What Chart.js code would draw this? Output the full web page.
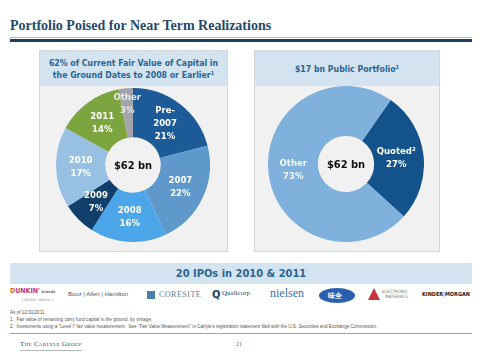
<!DOCTYPE html>
<html lang="en">

<head>
    <meta charset="UTF-8">
    <script src="https://cdn.jsdelivr.net/npm/chart.js"></script>
    <title>Portfolio Poised for Near Term Realizations</title>
    <style>
        body { margin: 0; width: 480px; height: 359px; background: #fff; position: relative; overflow: hidden;
               font-family: "DejaVu Sans Condensed", "DejaVu Sans", sans-serif; }
        .abs { position: absolute; }
        #title { left: 10px; top: 18px; font-family: "Liberation Serif", serif; font-weight: bold;
                 font-size: 14px; color: #1f4a6b; white-space: nowrap; }
        #rule1 { left: 10px; top: 37px; width: 462px; height: 1px; background: #9fbcd6; }
        #rule2 { left: 10px; top: 39px; width: 462px; height: 3px; background: #1d3f66; }
        .panel { top: 50px; height: 202px; background: #f1f1f1; border: 1px solid #d6d6d6; box-sizing: border-box; }
        .panelHead { left: 0; top: 0; right: 0; height: 35px; background: #d3e3f0; color: #2b6593;
                     font-weight: bold; font-size: 8.7px; text-align: center; display: flex;
                     align-items: center; justify-content: center; }
        .panelHead span { display: block; line-height: 12px; white-space: nowrap; }
        sup { font-size: 5.5px; vertical-align: 3px; line-height: 0; }
        #left { left: 39px; width: 189px; }
        #right { left: 254px; width: 186px; }
        canvas { position: absolute; }
        #band { left: 10px; top: 263px; width: 462px; height: 21px; background: #d3e3f0; color: #2b6593;
                font-weight: bold; font-size: 11px; text-align: center; line-height: 21px; }
        .logo { top: 288px; font-size: 6px; color: #555; white-space: nowrap; }
        .note { left: 10px; font-family: "Liberation Sans", sans-serif; font-size: 4.6px; color: #555; white-space: nowrap; }
        #rule3 { left: 10px; top: 333px; width: 462px; height: 1px; background: #9aa5b0; }
        #carlyle { left: 20px; top: 340px; font-family: "Liberation Serif", serif; font-size: 7px;
                   color: #2b4a66; font-variant: small-caps; letter-spacing: 0.3px; border-bottom: 1px solid #b0b8c0; padding-bottom: 2px; }
        #page { left: 236px; top: 341px; font-family: "Liberation Serif", serif; font-size: 6px; color: #666; }
    </style>
</head>

<body>
    <div id="title" class="abs">Portfolio Poised for Near Term Realizations</div>
    <div id="rule1" class="abs"></div>
    <div id="rule2" class="abs"></div>

    <div id="left" class="abs panel">
        <div class="abs panelHead"><span>62% of Current Fair Value of Capital in<br>the Ground Dates to 2008 or Earlier<sup>1</sup></span></div>
    </div>
    <div id="right" class="abs panel">
        <div class="abs panelHead"><span>$17 bn Public Portfolio<sup>2</sup></span></div>
    </div>
    <canvas id="vintage" width="154" height="154" style="left:56px; top:88px;"></canvas>
    <canvas id="public" width="156" height="156" style="left:268px; top:86px;"></canvas>

    <div id="band" class="abs">20 IPOs in 2010 &amp; 2011</div>
    <div class="abs logo" style="left:10px; top:287px; font-weight:bold; color:#d06a1e; font-size:7px;">D<span style="color:#c2327a">UNKIN'</span><span style="font-size:4px; color:#777"> brands</span></div>
    <div class="abs logo" style="left:22px; top:297px; font-size:4px; color:#999;">[ baskin robbins ]</div>
    <div class="abs logo" style="left:68px; top:291px; font-family:'Liberation Sans'; font-size:6px;">Booz | Allen | Hamilton</div>
    <div class="abs" style="left:147px; top:291px; width:8px; height:8px; background:#4a7fa8;"></div>
    <div class="abs logo" style="left:159px; top:290px; font-family:'Liberation Serif'; font-size:8px; color:#5a7e99; letter-spacing:0.5px;">CORESITE</div>
    <div class="abs logo" style="left:212px; top:288px; font-size:11px; font-weight:bold; color:#1d3f66;">Q</div>
    <div class="abs logo" style="left:222px; top:289px; font-family:'Liberation Serif'; font-size:7px; color:#1d3f66;">Qualicorp</div>
    <div class="abs logo" style="left:270px; top:286px; font-family:'Liberation Serif'; font-size:12px; color:#3a70b5;">nielsen</div>
    <div class="abs" style="left:319px; top:288px; width:36px; height:15px; border-radius:50%; background:#2a5fb0;"></div>
    <div class="abs logo" style="left:328px; top:291px; font-size:7px; font-weight:bold; color:#fff;">味全</div>
    <div class="abs" style="left:368px; top:288px; width:0; height:0; border-left:6px solid transparent; border-right:6px solid transparent; border-bottom:12px solid #c8303a;"></div>
    <div class="abs logo" style="left:382px; top:289px; font-size:4.5px; color:#777; line-height:5px; text-align:right;">ELECTRONIC<br>MATERIALS</div>
    <div class="abs logo" style="left:422px; top:291px; font-size:5.5px; font-weight:bold; color:#222;">KINDER<span style="color:#c8303a">|</span>MORGAN</div>

    <div class="abs note" style="top:310px;">As of 12/31/2011.</div>
    <div class="abs note" style="top:317px;">1.&nbsp; Fair value of remaining carry fund capital in the ground, by vintage.</div>
    <div class="abs note" style="top:324px;">2.&nbsp; Investments using a "Level I" fair value measurement.&nbsp; See "Fair Value Measurement" in Carlyle's registration statement filed with the U.S. Securities and Exchange Commission.</div>
    <div id="rule3" class="abs"></div>
    <div id="carlyle" class="abs">The Carlyle Group</div>
    <div id="page" class="abs">21</div>
</body>

</html>
<script>
    // capital in the ground by vintage (%)
    const vintageLabels = ['Pre-2007', '2007', '2008', '2009', '2010', '2011', 'Other'];
    const vintageShare = [21, 22, 16, 7, 17, 14, 3];
    const vintageText = [['Pre-', '2007', '21%'], ['2007', '22%'], ['2008', '16%'], ['2009', '7%'],
                         ['2010', '17%'], ['2011', '14%'], ['Other', '3%']];

    // public portfolio (%)
    const publicLabels = ['Quoted', 'Other'];
    const publicShare = [27, 73];
    const publicText = [['Quoted²', '27%'], ['Other', '73%']];

    const centerText = '$62 bn';

    const sliceLabels = {
        id: 'sliceLabels',
        afterDatasetsDraw(chart, args, opts) {
            const ctx = chart.ctx;
            const arcs = chart.getDatasetMeta(0).data;
            ctx.save();
            ctx.textAlign = 'center';
            ctx.textBaseline = 'middle';
            ctx.font = 'bold 9.5px "DejaVu Sans Condensed", "DejaVu Sans", sans-serif';
            arcs.forEach(function (arc, i) {
                const p = arc.getProps(['x', 'y', 'startAngle', 'endAngle', 'innerRadius', 'outerRadius'], true);
                const mid = (p.startAngle + p.endAngle) / 2;
                const r = p.innerRadius + (p.outerRadius - p.innerRadius) * (opts.radius[i] || 0.5);
                const lx = p.x + Math.cos(mid) * r;
                const ly = p.y + Math.sin(mid) * r;
                const lines = opts.text[i];
                ctx.fillStyle = (opts.colors && opts.colors[i]) || '#fff';
                lines.forEach(function (line, j) {
                    ctx.fillText(line, lx, ly + (j - (lines.length - 1) / 2) * 13);
                });
            });
            // centre figure
            const a = arcs[0];
            ctx.fillStyle = '#111';
            ctx.font = 'bold 11px "DejaVu Sans Condensed", "DejaVu Sans", sans-serif';
            ctx.fillText(centerText, a.x, a.y + 1);
            ctx.restore();
        }
    };

    function ring(id, labels, values, colors, rotation, text, radius, textColors) {
        return new Chart(document.getElementById(id), {
            type: 'doughnut',
            data: {
                labels: labels,
                datasets: [{
                    data: values,
                    backgroundColor: colors,
                    borderWidth: 0
                }]
            },
            options: {
                responsive: false,
                animation: false,
                cutout: '36%',
                rotation: rotation,
                layout: { padding: 0 },
                plugins: {
                    legend: { display: false },
                    tooltip: { enabled: false },
                    sliceLabels: { text: text, radius: radius, colors: textColors }
                }
            },
            plugins: [sliceLabels]
        });
    }

    ring('vintage', vintageLabels, vintageShare,
        ['#1d5b98', '#5f98cb', '#4ca6ea', '#103f6c', '#98c0e2', '#7da53f', '#a3a4ab'],
        0, vintageText, [0.5, 0.5, 0.5, 0.5, 0.5, 0.5, 0.68],
        ['#fff', '#fff', '#fff', '#fff', '#fff', '#fff', '#e8e8ea']);

    ring('public', publicLabels, publicShare,
        ['#14528b', '#7fb1dc'],
        35, publicText, [0.45, 0.5], ['#fff', '#f4f8fc']);
</script>
